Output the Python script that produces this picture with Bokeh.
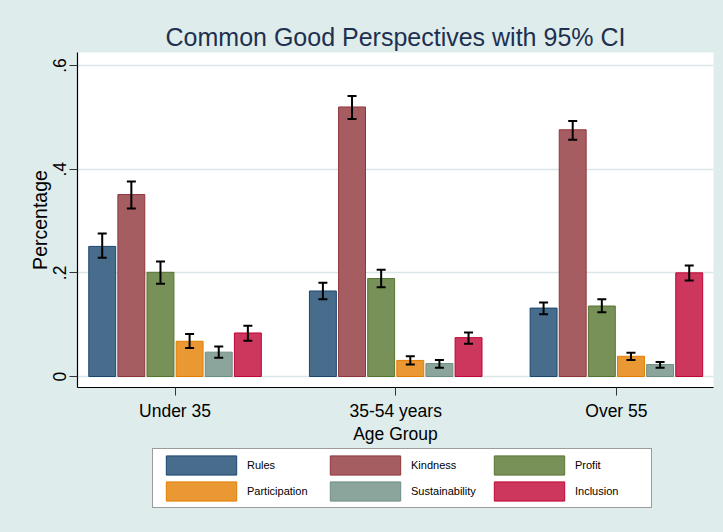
from bokeh.plotting import figure
from bokeh.layouts import column
from bokeh.models import (ColumnDataSource, Range1d, FixedTicker, Whisker, TeeHead,
                          Legend, LegendItem)
from bokeh.embed import file_html
from bokeh.resources import INLINE

# Age groups on the x axis
groups = ["Under 35", "35-54 years", "Over 55"]

# Share of respondents per perspective, with 95% CI bounds
rules = [0.251, 0.165, 0.132]
rules_lo = [0.229, 0.149, 0.120]
rules_hi = [0.276, 0.181, 0.143]

kindness = [0.351, 0.520, 0.476]
kindness_lo = [0.324, 0.497, 0.457]
kindness_hi = [0.376, 0.541, 0.493]

profit = [0.201, 0.189, 0.136]
profit_lo = [0.179, 0.172, 0.124]
profit_hi = [0.222, 0.206, 0.149]

participation = [0.068, 0.031, 0.039]
participation_lo = [0.055, 0.023, 0.032]
participation_hi = [0.082, 0.039, 0.046]

sustainability = [0.047, 0.025, 0.023]
sustainability_lo = [0.036, 0.017, 0.017]
sustainability_hi = [0.058, 0.032, 0.028]

inclusion = [0.084, 0.075, 0.200]
inclusion_lo = [0.069, 0.063, 0.185]
inclusion_hi = [0.098, 0.085, 0.214]

y_ticks = [0, 0.2, 0.4, 0.6]
y_tick_labels = ["0", ".2", ".4", ".6"]

series = [
    ("Rules", rules, rules_lo, rules_hi, "#1a476f", "#486c8c"),
    ("Kindness", kindness, kindness_lo, kindness_hi, "#90353b", "#a65d62"),
    ("Profit", profit, profit_lo, profit_hi, "#55752f", "#779159"),
    ("Participation", participation, participation_lo, participation_hi, "#e37e00", "#e99833"),
    ("Sustainability", sustainability, sustainability_lo, sustainability_hi, "#6e8e84", "#8ba59d"),
    ("Inclusion", inclusion, inclusion_lo, inclusion_hi, "#c10534", "#cd375d"),
]

FONT = "Liberation Sans"
BG = "#dfecec"

p = figure(frame_width=636, frame_height=335, output_backend="svg", toolbar_location=None,
           x_range=Range1d(0.558, 3.44), y_range=Range1d(-0.0212, 0.6251),
           min_border_left=77, min_border_right=10, min_border_top=52,
           min_border_bottom=55)
p.background_fill_color = "white"
p.border_fill_color = BG
p.outline_line_color = None

p.title.text = "Common Good Perspectives with 95% CI"
p.title.align = "center"
p.title.text_font = FONT
p.title.text_font_size = "25px"
p.title.text_font_style = "normal"
p.title.text_color = "#1e3050"
p.title.standoff = 4

bar_w = 0.122
pitch = 0.132
centers = [i + 1 for i in range(len(groups))]
sources = []
for k, (name, vals, lo, hi, line_c, fill_c) in enumerate(series):
    off = (k - 2.5) * pitch
    src = ColumnDataSource(dict(x=[c + off for c in centers], top=vals, lo=lo, hi=hi))
    sources.append(src)
    p.vbar(x="x", top="top", bottom=0, width=bar_w, source=src,
           fill_color=fill_c, line_color=line_c, line_width=1)
    w = Whisker(source=src, base="x", upper="hi", lower="lo", dimension="height",
                line_color="black", line_width=2, level="overlay",
                upper_head=TeeHead(size=9, line_width=2, line_color="black"),
                lower_head=TeeHead(size=9, line_width=2, line_color="black"))
    p.add_layout(w)

# y axis
p.yaxis.ticker = FixedTicker(ticks=y_ticks)
p.yaxis.major_label_overrides = dict(zip(y_ticks, y_tick_labels))
p.yaxis.major_label_orientation = "vertical"
p.yaxis.axis_label = "Percentage"
p.yaxis.axis_label_text_font = FONT
p.yaxis.axis_label_text_font_size = "19.5px"
p.yaxis.axis_label_text_font_style = "normal"
p.yaxis.axis_label_standoff = 0
p.yaxis.major_label_standoff = 3

# x axis
p.xaxis.ticker = FixedTicker(ticks=centers)
p.xaxis.major_label_overrides = dict(zip(centers, groups))
p.xaxis.axis_label = "Age Group"
p.xaxis.axis_label_text_font = FONT
p.xaxis.axis_label_text_font_size = "17.5px"
p.xaxis.axis_label_text_font_style = "normal"
p.xaxis.axis_label_standoff = 0
p.xaxis.major_label_standoff = 5

for ax in (p.xaxis, p.yaxis):
    ax.major_label_text_font = FONT
    ax.major_label_text_font_size = "17.5px"
    ax.major_label_text_color = "black"
    ax.axis_label_text_color = "black"
    ax.axis_line_color = "black"
    ax.axis_line_width = 1.2
    ax.major_tick_out = 8
    ax.major_tick_in = 0
    ax.major_tick_line_color = "#333333"
    ax.minor_tick_line_color = None

p.xgrid.grid_line_color = None
p.ygrid.grid_line_color = "#d8e6e7"
p.ygrid.grid_line_width = 1.5

# Key strip under the chart; its view window lies away from the bars,
# so only the legend swatches show
key = figure(width=723, height=90, output_backend="svg", toolbar_location=None,
             x_axis_type=None, y_axis_type=None, min_border=0,
             x_range=Range1d(10, 11), y_range=Range1d(10, 11))
key.background_fill_alpha = 0
key.border_fill_color = BG
key.outline_line_color = None
key.xgrid.visible = False
key.ygrid.visible = False

items = []
for (name, vals, lo, hi, line_c, fill_c), src in zip(series, sources):
    r = key.vbar(x="x", top="top", bottom=0, width=bar_w, source=src,
                 fill_color=fill_c, line_color=line_c, line_width=1)
    items.append(LegendItem(label=name, renderers=[r]))

legend = Legend(items=items, orientation="horizontal", ncols=3, location=(75, 28),
                glyph_width=88, glyph_height=24, label_standoff=2, label_width=72,
                spacing=2, padding=4, margin=0,
                label_text_font=FONT, label_text_font_size="11px",
                label_text_color="black",
                border_line_color="#3a3a3a", border_line_width=1.5,
                background_fill_color="white", background_fill_alpha=1)
key.add_layout(legend, "center")

layout = column(p, key, spacing=0, styles={"background-color": BG})
open("out.html", "w").write(file_html(layout, INLINE))
